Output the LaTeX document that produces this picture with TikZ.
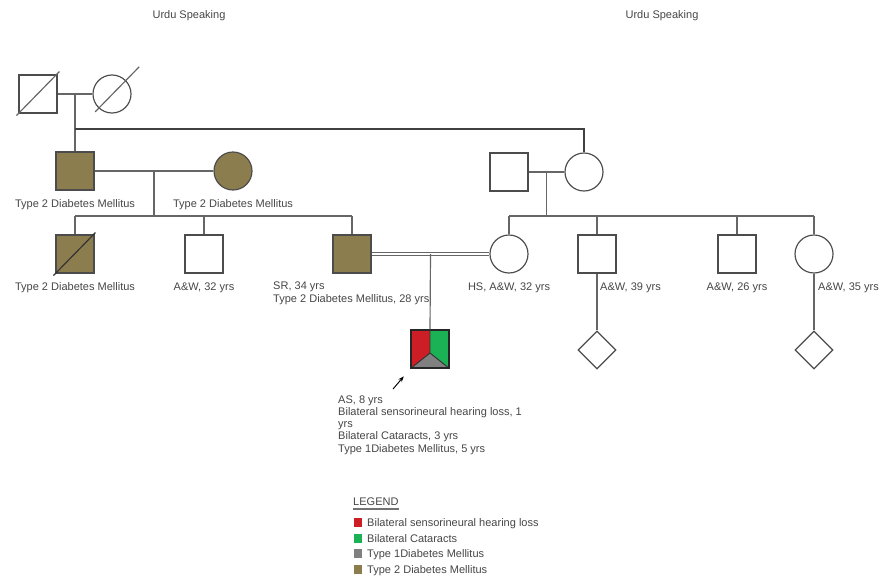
\documentclass[tikz,border=0pt]{standalone}
\usepackage{fontspec}
\setmainfont{Liberation Sans}
\usetikzlibrary{shapes.geometric,calc,arrows.meta}
\definecolor{dmtwo}{RGB}{139,125,78}
\definecolor{hlred}{RGB}{204,30,36}
\definecolor{catgreen}{RGB}{26,178,84}
\definecolor{dmone}{RGB}{128,128,128}
\definecolor{ink}{RGB}{70,70,70}
\begin{document}
\begin{tikzpicture}[x=0.03cm,y=-0.03cm,inner sep=0pt]
    \tikzstyle{male}=[rectangle,draw=black!70,line width=1pt,minimum size=1.14cm]
    \tikzstyle{female}=[circle,draw=black!70,line width=1pt,minimum size=1.14cm]
    \tikzstyle{unknown}=[diamond,draw=black!70,line width=1pt,minimum size=1.14cm,aspect=1]
    \tikzstyle{dm}=[fill=dmtwo]
    \tikzstyle{lbl}=[font=\fontsize{9.4}{10.4}\selectfont,text=ink,align=left]
    \tikzstyle{rel}=[draw=black!60,line width=1pt]
    \useasboundingbox (0,0) rectangle (881,577);

    \node[lbl,anchor=base] (lang1) at (189,18) {Urdu Speaking};
    \node[lbl,anchor=base] (lang2) at (662,18) {Urdu Speaking};

    % generation I
    \node[male] (gf) at (38,94) {};
    \node[female] (gm) at (112,94) {};
    \draw[rel] (gf.east) -- (gm.west);
    \draw[rel] (gf.south west) ++(-2,2) -- ++(43,-44);
    \draw[rel] (gm.south west) ++(-3,4) -- ++(44,-45);

    % generation II
    \node[male,dm] (fa) at (75,171) {};
    \node[female,dm] (mo) at (233,171) {};
    \node[male] (rf) at (509,172) {};
    \node[female] (rm) at (584,172) {};
    \coordinate (gpm) at ($(gf.east)!0.5!(gm.west)$);
    \coordinate (link) at (75,129);
    \draw[rel] (gpm) -- (fa.north);
    \draw[rel,draw=black!75] (link) -| (rm.north);
    \draw[rel] (fa.east) -- (mo.west);
    \draw[rel] (rf.east) -- (rm.west);
    \node[lbl,anchor=base] (lfa) at (75,207) {Type 2 Diabetes Mellitus};
    \node[lbl,anchor=base] (lmo) at (233,207) {Type 2 Diabetes Mellitus};

    % generation III
    \node[male,dm] (c1) at (75,254) {};
    \node[male] (c2) at (204,254) {};
    \node[male,dm] (sr) at (352,254) {};
    \node[female] (hs) at (509,254) {};
    \node[male] (c5) at (597,254) {};
    \node[male] (c6) at (737,254) {};
    \node[female] (c7) at (814,254) {};
    \draw[black!80,line width=1pt] (c1.south west) ++(-2,2) -- ++(42,-43);

    \coordinate (pm1) at ($(fa.east)!0.5!(mo.west)$);
    \coordinate (sib1) at (75,216);
    \draw[rel] (pm1) -- (pm1 |- sib1);
    \draw[rel] (sib1) -- (sr.north |- sib1);
    \foreach \c in {c1,c2,sr} {
        \draw[rel] (\c.north) -- (\c.north |- sib1);
    };
    \coordinate (pm2) at ($(rf.east)!0.5!(rm.west)$);
    \draw[rel] (pm2) -- (pm2 |- sib1);
    \draw[rel] (hs.north |- sib1) -- (c7.north |- sib1);
    \foreach \c in {hs,c5,c6,c7} {
        \draw[rel] (\c.north) -- (\c.north |- sib1);
    };

    \node[lbl,anchor=base] (lc1) at (75,290) {Type 2 Diabetes Mellitus};
    \node[lbl,anchor=base] (lc2) at (204,290) {A\&W, 32 yrs};
    \node[lbl,anchor=base west] (lsr) at (273,302) {SR, 34 yrs\\Type 2 Diabetes Mellitus, 28 yrs};
    \node[lbl,anchor=base] (lhs) at (509,290) {HS, A\&W, 32 yrs};
    \node[lbl,anchor=base west] (lc5) at (600,290) {A\&W, 39 yrs};
    \node[lbl,anchor=base] (lc6) at (737,290) {A\&W, 26 yrs};
    \node[lbl,anchor=base west] (lc7) at (818,290) {A\&W, 35 yrs};

    % consanguineous union
    \draw[rel,double=white,double distance=1.6pt,line width=0.8pt] (sr.east) -- (hs.west);
    \coordinate (pm3) at ($(sr.east)!0.5!(hs.west)$);

    % generation IV
    \node[male] (as) at (430,349) {};
    \coordinate (apex) at (430,353);
    \fill[hlred] (as.north west) -- (as.north) -- (apex) -- (as.south west) -- cycle;
    \fill[catgreen] (as.north) -- (as.north east) -- (as.south east) -- (apex) -- cycle;
    \fill[dmone] (as.south west) -- (apex) -- (as.south east) -- cycle;
    \draw[black!80,line width=0.8pt] (as.north) -- (apex) (as.south west) -- (apex) -- (as.south east);
    \node[male,fill=none,draw=black!85] (asb) at (430,349) {};
    \draw[rel] (pm3) -- (as.north);
    \coordinate (arr) at (393,389);
    \draw[-{Stealth[length=5pt]},line width=0.8pt] (arr) -- ($(arr)!0.62!(as.south west)$);
    \node[lbl,anchor=base west] (las) at (338,452) {AS, 8 yrs\\Bilateral sensorineural hearing loss, 1\\yrs\\Bilateral Cataracts, 3 yrs\\Type 1Diabetes Mellitus, 5 yrs};

    \node[unknown] (u1) at (597,350) {};
    \node[unknown] (u2) at (814,350) {};
    \draw[rel] (c5.south) -- (u1.north);
    \draw[rel] (c7.south) -- (u2.north);

    % legend
    \node[lbl,anchor=base west] (leg) at (353,505) {LEGEND};
    \draw[black!55,line width=1.4pt] ([yshift=-3.5]leg.base west) -- ([yshift=-3.5]leg.base east);
    \foreach \c/\t [count=\i] in {hlred/Bilateral sensorineural hearing loss,catgreen/Bilateral Cataracts,dmone/Type 1Diabetes Mellitus,dmtwo/Type 2 Diabetes Mellitus} {
        \node[fill=\c,minimum size=0.26cm] (sw\i) at (358,507+15.6*\i) {};
        \node[lbl,anchor=base west] (lt\i) at (367,511+15.6*\i) {\t};
    };
\end{tikzpicture}
\end{document}
